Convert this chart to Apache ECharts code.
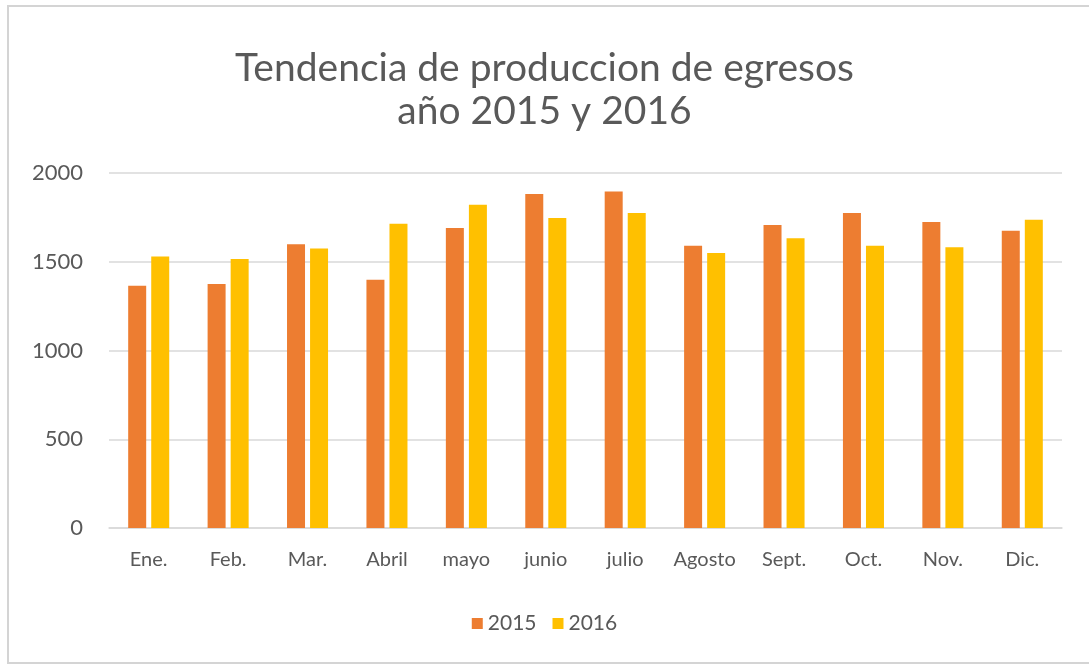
<!DOCTYPE html>
<html>
<head>
<meta charset="utf-8">
<script src="https://cdn.jsdelivr.net/npm/echarts@6/dist/echarts.min.js"></script>
<style>
  html, body { margin: 0; padding: 0; background: #fff; }
  #chart { width: 1089px; height: 667px; }
</style>
</head>
<body>
<div id="chart"></div>
<script>
// Datos
const meses = ['Ene.', 'Feb.', 'Mar.', 'Abril', 'mayo', 'junio', 'julio', 'Agosto', 'Sept.', 'Oct.', 'Nov.', 'Dic.'];
const egresos2015 = [1365, 1375, 1598, 1399, 1690, 1882, 1896, 1590, 1707, 1775, 1724, 1675];
const egresos2016 = [1530, 1515, 1574, 1714, 1821, 1746, 1775, 1549, 1632, 1590, 1581, 1737];
const yTicks = { min: 0, max: 2000, interval: 500 };

var chartDom = document.getElementById('chart');
var myChart = echarts.init(chartDom);

const fuente = 'Lato, "Open Sans", sans-serif';
const gris = '#595959';

var option = {
    textStyle: { fontFamily: fuente },
    title: {
        text: 'Tendencia de produccion de egresos\naño 2015 y 2016',
        left: 'center',
        top: 42,
        textStyle: {
            fontFamily: fuente,
            fontSize: 39,
            fontWeight: 'normal',
            color: gris,
            lineHeight: 43
        }
    },
    legend: {
        bottom: 28,
        left: 'center',
        itemWidth: 11,
        itemHeight: 11,
        itemGap: 16,
        icon: 'rect',
        textStyle: { fontSize: 21, color: gris, fontFamily: fuente }
    },
    grid: { left: 109, right: 27, top: 173, bottom: 139 },
    xAxis: {
        type: 'category',
        data: meses,
        axisTick: { show: false },
        axisLine: { lineStyle: { color: '#d9d9d9', width: 1.5 } },
        axisLabel: { fontSize: 20, color: gris, margin: 22, interval: 0, fontFamily: fuente }
    },
    yAxis: {
        type: 'value',
        min: yTicks.min,
        max: yTicks.max,
        interval: yTicks.interval,
        axisLine: { show: false },
        axisTick: { show: false },
        axisLabel: {
            fontSize: 22, color: gris, margin: 26, fontFamily: fuente,
            formatter: v => String(v)
        },
        splitLine: { lineStyle: { color: '#d9d9d9', width: 1.5 } }
    },
    series: [
        {
            name: '2015',
            type: 'bar',
            data: egresos2015,
            barWidth: 18,
            barGap: '28%',
            itemStyle: { color: '#ED7D31' }
        },
        {
            name: '2016',
            type: 'bar',
            data: egresos2016,
            barWidth: 18,
            itemStyle: { color: '#FFC000' }
        }
    ],
    graphic: [{
        type: 'rect',
        shape: { x: 8, y: 6, width: 1100, height: 657 },
        style: { fill: 'none', stroke: '#d4d4d4', lineWidth: 2 },
        silent: true
    }]
};

myChart.setOption(option);
window.addEventListener('resize', () => myChart.resize());
</script>
</body>
</html>
